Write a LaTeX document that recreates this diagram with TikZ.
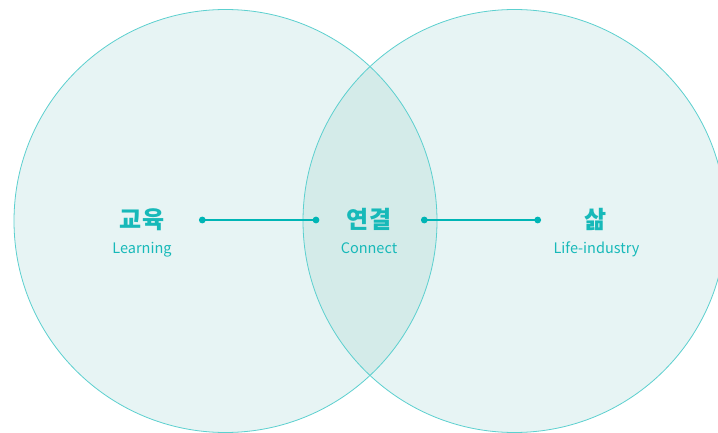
\documentclass[tikz,border=0pt]{standalone}
\usepackage{fontspec}
\setmainfont{Noto Sans CJK KR}
\newfontfamily\krbold{Noto Sans CJK KR}[BoldFont={* Bold}]
\definecolor{teal1}{HTML}{00B5B5}
\definecolor{tealtext}{HTML}{17B9B9}
\definecolor{ringc}{HTML}{5CD0CF}
\definecolor{fillc}{HTML}{E7F4F4}
\definecolor{overlapc}{HTML}{D4EBE9}
\begin{document}
\begin{tikzpicture}[x=1pt,y=-1pt,
  ring/.style={draw=ringc,line width=0.8pt},
  title/.style={text=tealtext,font=\fontsize{24}{28}\selectfont\bfseries,anchor=base,inner sep=0pt},
  sub/.style={text=tealtext,font=\fontsize{14.5}{17}\selectfont,anchor=base,inner sep=0pt},
  dotn/.style={circle,fill=teal1,inner sep=0pt,minimum size=6.8pt},
  link/.style={draw=teal1,line width=2pt}]
\useasboundingbox (0,0) rectangle (718,433);
\fill[white] (0,0) rectangle (718,433);
\fill[fillc] (225.5,221) circle (211.5);
\fill[fillc] (514.5,221) circle (211.5);
\begin{scope}
  \clip (225.5,221) circle (211.5);
  \fill[overlapc] (514.5,221) circle (211.5);
\end{scope}
\draw[ring] (225.5,221) circle (211.5);
\draw[ring] (514.5,221) circle (211.5);
\node[title] (edu) at (142,229) {교육};
\node[sub] (learn) at (142,253) {Learning};
\node[title] (con) at (369,229) {연결};
\node[sub] (connect) at (369,253) {Connect};
\node[title] (life) at (596,229) {삶};
\node[sub] (lifeind) at (596.5,253) {Life-industry};
\node[dotn] (d1) at (202.3,220) {};
\node[dotn] (d2) at (316,220) {};
\node[dotn] (d3) at (424.3,220) {};
\node[dotn] (d4) at (537.7,220) {};
\draw[link] (d1.center) -- (d2.center);
\draw[link] (d3.center) -- (d4.center);
\end{tikzpicture}
\end{document}
